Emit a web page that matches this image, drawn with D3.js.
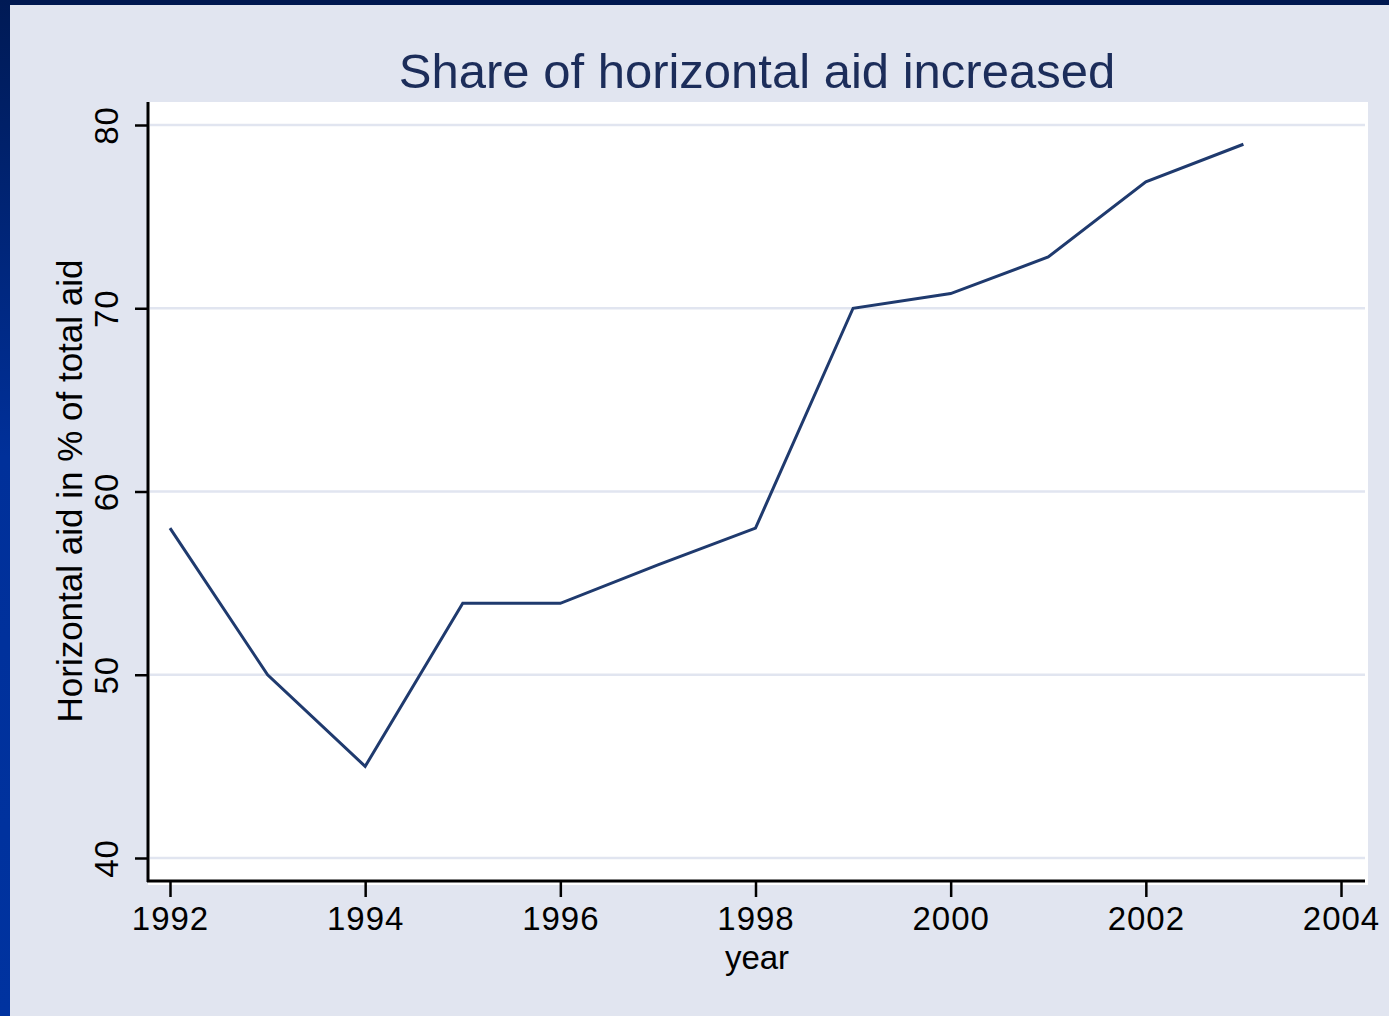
<!DOCTYPE html>
<html>
<head>
<meta charset="utf-8">
<script src="https://cdn.jsdelivr.net/npm/d3@7"></script>
<style>
  body { margin: 0; background: #e1e5f0; }
  text { font-family: "Liberation Sans", Arial, sans-serif; }
</style>
</head>
<body>
<script>
// data
var years = [1992, 1993, 1994, 1995, 1996, 1997, 1998, 1999, 2000, 2001, 2002, 2003];
var share = [58, 50, 45, 53.9, 53.9, 56, 58, 70, 70.8, 72.8, 76.9, 78.95];
var xTicks = [1992, 1994, 1996, 1998, 2000, 2002, 2004];
var yTicks = [40, 50, 60, 70, 80];

var width = 1389;
var height = 1016;

var svg = d3.select("body").append("svg")
    .attr("width", width)
    .attr("height", height);

// frame: light background, navy strip on top, blue strip on the left
var grad = svg.append("defs").append("linearGradient")
    .attr("id", "side")
    .attr("x1", 0).attr("y1", 0).attr("x2", 0).attr("y2", 1);
grad.append("stop").attr("offset", "0%").attr("stop-color", "#001a55");
grad.append("stop").attr("offset", "45%").attr("stop-color", "#00309a");
grad.append("stop").attr("offset", "100%").attr("stop-color", "#0033a0");

svg.append("rect").attr("width", width).attr("height", height).attr("fill", "#e1e5f0");
svg.append("rect").attr("x", 0).attr("y", 0).attr("width", width).attr("height", 5).attr("fill", "#001850");
svg.append("rect").attr("x", 0).attr("y", 0).attr("width", 10).attr("height", height).attr("fill", "url(#side)");

var x = d3.scaleLinear().domain([1992, 2004]).range([170, 1341]);
var y = d3.scaleLinear().domain([40, 80]).range([858, 125]);

// white plot region
svg.append("rect")
    .attr("x", 148).attr("y", 102)
    .attr("width", 1220).attr("height", 783)
    .attr("fill", "white");

// gridlines
svg.append("g").selectAll("line")
    .data(yTicks)
    .enter()
    .append("line")
    .attr("x1", 150).attr("x2", 1365)
    .attr("y1", function(d){ return y(d); })
    .attr("y2", function(d){ return y(d); })
    .attr("stroke", "#e1e5f0")
    .attr("stroke-width", 2.5);

// y axis
var yAxis = svg.append("g")
    .attr("transform", "translate(148,0)")
    .call(d3.axisLeft(y).tickValues(yTicks).tickSize(13).tickPadding(16).tickSizeOuter(0));
yAxis.select(".domain").attr("stroke", "black").attr("stroke-width", 3)
    .attr("d", "M0,102V882");
yAxis.selectAll(".tick line").attr("stroke", "black").attr("stroke-width", 2.5);
yAxis.selectAll(".tick text")
    .attr("font-size", 33)
    .attr("fill", "black")
    .attr("letter-spacing", 1)
    .attr("x", null)
    .attr("text-anchor", "middle")
    .attr("transform", "translate(-30,0) rotate(-90)")
    .attr("y", 0)
    .attr("dy", "0");

// x axis
var xAxis = svg.append("g")
    .attr("transform", "translate(0,881)")
    .call(d3.axisBottom(x).tickValues(xTicks).tickFormat(d3.format("d")).tickSize(16).tickPadding(10).tickSizeOuter(0));
xAxis.select(".domain").attr("stroke", "black").attr("stroke-width", 3)
    .attr("d", "M147,0H1365");
xAxis.selectAll(".tick line").attr("stroke", "black").attr("stroke-width", 2.5);
xAxis.selectAll(".tick text")
    .attr("font-size", 33)
    .attr("fill", "black")
    .attr("letter-spacing", 1);

// line
var line = d3.line()
    .x(function(d, i){ return x(years[i]); })
    .y(function(d){ return y(d); });

svg.append("path")
    .datum(share)
    .attr("d", line)
    .attr("fill", "none")
    .attr("stroke", "#1f3a6e")
    .attr("stroke-width", 3)
    .attr("stroke-linejoin", "miter");

// titles
svg.append("text")
    .attr("x", 757).attr("y", 88)
    .attr("text-anchor", "middle")
    .attr("font-size", 49)
    .attr("fill", "#1c2d5a")
    .text("Share of horizontal aid increased");

svg.append("text")
    .attr("x", 757).attr("y", 969)
    .attr("text-anchor", "middle")
    .attr("font-size", 33)
    .attr("fill", "black")
    .text("year");

svg.append("text")
    .attr("transform", "translate(82,491) rotate(-90)")
    .attr("text-anchor", "middle")
    .attr("font-size", 35)
    .attr("fill", "black")
    .text("Horizontal aid in % of total aid");
</script>
</body>
</html>
